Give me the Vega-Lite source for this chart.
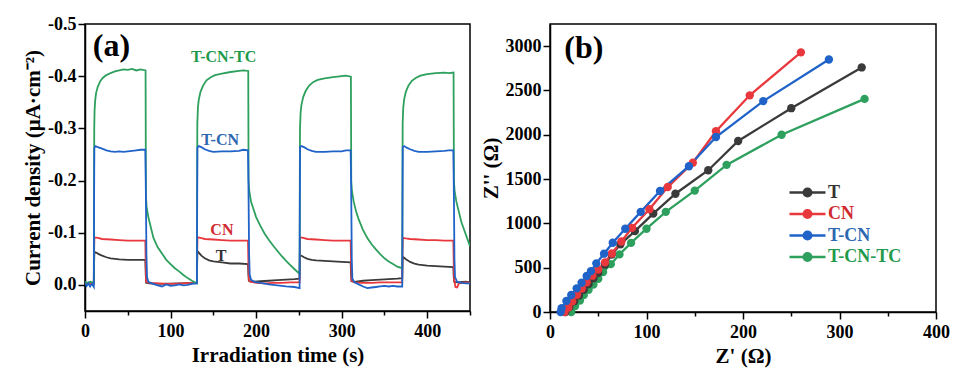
{
"$schema": "https://vega.github.io/schema/vega-lite/v6.json",
"background": "white",
"padding": {"left": 21, "top": 14, "right": 5, "bottom": 5},
"spacing": 7,
"resolve": {"scale": {"color": "independent"}, "legend": {"color": "independent"}},
"config": {
 "font": "Liberation Serif",
 "view": {"stroke": "#000", "strokeWidth": 1.5},
 "axis": {"labelFont": "Liberation Serif", "labelFontWeight": "bold", "labelFontSize": 18, "labelColor": "#000", "labelFlush": false, "labelOverlap": false,
  "titleFont": "Liberation Serif", "titleFontWeight": "bold", "titleFontSize": 21, "titleColor": "#000",
  "domainColor": "#000", "domainWidth": 1.5, "tickColor": "#000", "tickWidth": 1.5, "grid": false, "labelPadding": 2}
},
"datasets": {
 "pc": [
  {"s":"T","t":0,"v":-0.002},{"s":"T","t":5,"v":-0.003},{"s":"T","t":10.3,"v":-0.002},{"s":"T","t":10.6,"v":-0.04},{"s":"T","t":11,"v":-0.063},{"s":"T","t":13,"v":-0.062},{"s":"T","t":16,"v":-0.059},{"s":"T","t":20,"v":-0.056},{"s":"T","t":25,"v":-0.053},{"s":"T","t":30,"v":-0.051},{"s":"T","t":35,"v":-0.05},{"s":"T","t":40,"v":-0.049},{"s":"T","t":50,"v":-0.048},{"s":"T","t":60,"v":-0.048},{"s":"T","t":70.5,"v":-0.048},{"s":"T","t":71,"v":-0.02},{"s":"T","t":71.5,"v":-0.004},{"s":"T","t":75,"v":-0.003},{"s":"T","t":90,"v":-0.002},{"s":"T","t":110,"v":-0.003},{"s":"T","t":130.8,"v":-0.004},
  {"s":"T","t":131.1,"v":-0.04},{"s":"T","t":131.4,"v":-0.065},{"s":"T","t":133,"v":-0.062},{"s":"T","t":136,"v":-0.056},{"s":"T","t":140,"v":-0.051},{"s":"T","t":145,"v":-0.047},{"s":"T","t":150,"v":-0.045},{"s":"T","t":160,"v":-0.043},{"s":"T","t":170,"v":-0.041},{"s":"T","t":180,"v":-0.041},{"s":"T","t":190.5,"v":-0.04},{"s":"T","t":191,"v":-0.02},{"s":"T","t":191.5,"v":-0.008},{"s":"T","t":195,"v":-0.006},{"s":"T","t":205,"v":-0.007},{"s":"T","t":215,"v":-0.008},{"s":"T","t":225,"v":-0.009},{"s":"T","t":235,"v":-0.01},{"s":"T","t":245,"v":-0.011},{"s":"T","t":250.8,"v":-0.012},
  {"s":"T","t":251.1,"v":-0.04},{"s":"T","t":251.4,"v":-0.057},{"s":"T","t":253,"v":-0.056},{"s":"T","t":256,"v":-0.053},{"s":"T","t":260,"v":-0.05},{"s":"T","t":265,"v":-0.048},{"s":"T","t":270,"v":-0.047},{"s":"T","t":280,"v":-0.046},{"s":"T","t":290,"v":-0.045},{"s":"T","t":300,"v":-0.044},{"s":"T","t":310.5,"v":-0.043},{"s":"T","t":311,"v":-0.02},{"s":"T","t":311.5,"v":-0.007},{"s":"T","t":315,"v":-0.006},{"s":"T","t":325,"v":-0.008},{"s":"T","t":335,"v":-0.009},{"s":"T","t":345,"v":-0.01},{"s":"T","t":355,"v":-0.011},{"s":"T","t":365,"v":-0.012},{"s":"T","t":370.8,"v":-0.013},
  {"s":"T","t":371.1,"v":-0.04},{"s":"T","t":371.4,"v":-0.054},{"s":"T","t":373,"v":-0.052},{"s":"T","t":376,"v":-0.048},{"s":"T","t":380,"v":-0.044},{"s":"T","t":385,"v":-0.041},{"s":"T","t":390,"v":-0.039},{"s":"T","t":400,"v":-0.037},{"s":"T","t":410,"v":-0.036},{"s":"T","t":420,"v":-0.035},{"s":"T","t":430.5,"v":-0.034},{"s":"T","t":431,"v":-0.015},{"s":"T","t":431.5,"v":-0.006},{"s":"T","t":435,"v":-0.005},{"s":"T","t":445,"v":-0.006},{"s":"T","t":450,"v":-0.005},

  {"s":"CN","t":0,"v":-0.004},{"s":"CN","t":5,"v":-0.003},{"s":"CN","t":10.3,"v":-0.003},{"s":"CN","t":10.6,"v":-0.06},{"s":"CN","t":11,"v":-0.091},{"s":"CN","t":15,"v":-0.09},{"s":"CN","t":20,"v":-0.088},{"s":"CN","t":30,"v":-0.087},{"s":"CN","t":40,"v":-0.086},{"s":"CN","t":50,"v":-0.085},{"s":"CN","t":60,"v":-0.085},{"s":"CN","t":70.5,"v":-0.085},{"s":"CN","t":71,"v":-0.04},{"s":"CN","t":71.5,"v":-0.006},{"s":"CN","t":75,"v":-0.004},{"s":"CN","t":85,"v":-0.003},{"s":"CN","t":100,"v":-0.002},{"s":"CN","t":115,"v":-0.003},{"s":"CN","t":130.8,"v":-0.004},
  {"s":"CN","t":131.1,"v":-0.06},{"s":"CN","t":131.5,"v":-0.091},{"s":"CN","t":135,"v":-0.09},{"s":"CN","t":140,"v":-0.088},{"s":"CN","t":150,"v":-0.087},{"s":"CN","t":160,"v":-0.086},{"s":"CN","t":170,"v":-0.085},{"s":"CN","t":180,"v":-0.085},{"s":"CN","t":190.5,"v":-0.085},{"s":"CN","t":191,"v":-0.04},{"s":"CN","t":191.5,"v":-0.01},{"s":"CN","t":193,"v":-0.006},{"s":"CN","t":200,"v":-0.004},{"s":"CN","t":210,"v":-0.003},{"s":"CN","t":220,"v":-0.004},{"s":"CN","t":230,"v":-0.004},{"s":"CN","t":240,"v":-0.005},{"s":"CN","t":250.8,"v":-0.005},
  {"s":"CN","t":251.1,"v":-0.06},{"s":"CN","t":251.5,"v":-0.091},{"s":"CN","t":255,"v":-0.09},{"s":"CN","t":260,"v":-0.088},{"s":"CN","t":270,"v":-0.087},{"s":"CN","t":280,"v":-0.086},{"s":"CN","t":290,"v":-0.085},{"s":"CN","t":300,"v":-0.085},{"s":"CN","t":310.5,"v":-0.085},{"s":"CN","t":311,"v":-0.04},{"s":"CN","t":311.5,"v":-0.008},{"s":"CN","t":315,"v":-0.005},{"s":"CN","t":325,"v":-0.004},{"s":"CN","t":335,"v":-0.004},{"s":"CN","t":345,"v":-0.005},{"s":"CN","t":355,"v":-0.005},{"s":"CN","t":365,"v":-0.005},{"s":"CN","t":370.8,"v":-0.005},
  {"s":"CN","t":371.1,"v":-0.06},{"s":"CN","t":371.5,"v":-0.09},{"s":"CN","t":375,"v":-0.089},{"s":"CN","t":380,"v":-0.088},{"s":"CN","t":390,"v":-0.087},{"s":"CN","t":400,"v":-0.086},{"s":"CN","t":410,"v":-0.086},{"s":"CN","t":420,"v":-0.085},{"s":"CN","t":430.5,"v":-0.085},{"s":"CN","t":431,"v":-0.04},{"s":"CN","t":431.5,"v":-0.01},{"s":"CN","t":433,"v":0.004},{"s":"CN","t":435,"v":0.005},{"s":"CN","t":437,"v":-0.003},{"s":"CN","t":445,"v":-0.005},{"s":"CN","t":450,"v":-0.004},

  {"s":"T-CN-TC","t":0,"v":-0.006},{"s":"T-CN-TC","t":3,"v":-0.004},{"s":"T-CN-TC","t":6,"v":-0.006},{"s":"T-CN-TC","t":9,"v":-0.005},{"s":"T-CN-TC","t":10.3,"v":-0.004},
  {"s":"T-CN-TC","t":10.6,"v":-0.2},{"s":"T-CN-TC","t":10.8,"v":-0.3},{"s":"T-CN-TC","t":11.2,"v":-0.335},{"s":"T-CN-TC","t":12,"v":-0.355},{"s":"T-CN-TC","t":13,"v":-0.368},{"s":"T-CN-TC","t":15,"v":-0.38},{"s":"T-CN-TC","t":18,"v":-0.391},{"s":"T-CN-TC","t":21,"v":-0.397},{"s":"T-CN-TC","t":25,"v":-0.402},{"s":"T-CN-TC","t":30,"v":-0.406},{"s":"T-CN-TC","t":35,"v":-0.409},{"s":"T-CN-TC","t":40,"v":-0.411},{"s":"T-CN-TC","t":45,"v":-0.413},{"s":"T-CN-TC","t":50,"v":-0.412},{"s":"T-CN-TC","t":55,"v":-0.414},{"s":"T-CN-TC","t":60,"v":-0.411},{"s":"T-CN-TC","t":65,"v":-0.413},{"s":"T-CN-TC","t":70.8,"v":-0.411},
  {"s":"T-CN-TC","t":71.2,"v":-0.17},{"s":"T-CN-TC","t":72,"v":-0.15},{"s":"T-CN-TC","t":74,"v":-0.13},{"s":"T-CN-TC","t":77,"v":-0.11},{"s":"T-CN-TC","t":80,"v":-0.09},{"s":"T-CN-TC","t":85,"v":-0.072},{"s":"T-CN-TC","t":90,"v":-0.06},{"s":"T-CN-TC","t":95,"v":-0.048},{"s":"T-CN-TC","t":100,"v":-0.04},{"s":"T-CN-TC","t":105,"v":-0.032},{"s":"T-CN-TC","t":110,"v":-0.026},{"s":"T-CN-TC","t":115,"v":-0.019},{"s":"T-CN-TC","t":120,"v":-0.013},{"s":"T-CN-TC","t":125,"v":-0.008},{"s":"T-CN-TC","t":130.8,"v":-0.003},
  {"s":"T-CN-TC","t":131.1,"v":-0.22},{"s":"T-CN-TC","t":131.3,"v":-0.31},{"s":"T-CN-TC","t":132,"v":-0.34},{"s":"T-CN-TC","t":133,"v":-0.355},{"s":"T-CN-TC","t":135,"v":-0.37},{"s":"T-CN-TC","t":138,"v":-0.382},{"s":"T-CN-TC","t":142,"v":-0.392},{"s":"T-CN-TC","t":147,"v":-0.398},{"s":"T-CN-TC","t":152,"v":-0.402},{"s":"T-CN-TC","t":160,"v":-0.405},{"s":"T-CN-TC","t":170,"v":-0.408},{"s":"T-CN-TC","t":180,"v":-0.41},{"s":"T-CN-TC","t":185,"v":-0.411},{"s":"T-CN-TC","t":190.8,"v":-0.41},
  {"s":"T-CN-TC","t":191.2,"v":-0.2},{"s":"T-CN-TC","t":192,"v":-0.18},{"s":"T-CN-TC","t":194,"v":-0.16},{"s":"T-CN-TC","t":197,"v":-0.145},{"s":"T-CN-TC","t":200,"v":-0.13},{"s":"T-CN-TC","t":205,"v":-0.113},{"s":"T-CN-TC","t":210,"v":-0.098},{"s":"T-CN-TC","t":215,"v":-0.086},{"s":"T-CN-TC","t":220,"v":-0.075},{"s":"T-CN-TC","t":225,"v":-0.065},{"s":"T-CN-TC","t":230,"v":-0.055},{"s":"T-CN-TC","t":235,"v":-0.046},{"s":"T-CN-TC","t":240,"v":-0.038},{"s":"T-CN-TC","t":245,"v":-0.03},{"s":"T-CN-TC","t":250.8,"v":-0.021},
  {"s":"T-CN-TC","t":251.1,"v":-0.22},{"s":"T-CN-TC","t":251.3,"v":-0.3},{"s":"T-CN-TC","t":252,"v":-0.33},{"s":"T-CN-TC","t":253,"v":-0.345},{"s":"T-CN-TC","t":255,"v":-0.36},{"s":"T-CN-TC","t":258,"v":-0.372},{"s":"T-CN-TC","t":262,"v":-0.382},{"s":"T-CN-TC","t":267,"v":-0.389},{"s":"T-CN-TC","t":272,"v":-0.393},{"s":"T-CN-TC","t":280,"v":-0.396},{"s":"T-CN-TC","t":290,"v":-0.398},{"s":"T-CN-TC","t":300,"v":-0.4},{"s":"T-CN-TC","t":305,"v":-0.401},{"s":"T-CN-TC","t":310.8,"v":-0.399},
  {"s":"T-CN-TC","t":311.2,"v":-0.2},{"s":"T-CN-TC","t":312,"v":-0.18},{"s":"T-CN-TC","t":314,"v":-0.16},{"s":"T-CN-TC","t":317,"v":-0.14},{"s":"T-CN-TC","t":320,"v":-0.125},{"s":"T-CN-TC","t":325,"v":-0.105},{"s":"T-CN-TC","t":330,"v":-0.09},{"s":"T-CN-TC","t":335,"v":-0.078},{"s":"T-CN-TC","t":340,"v":-0.068},{"s":"T-CN-TC","t":345,"v":-0.059},{"s":"T-CN-TC","t":350,"v":-0.051},{"s":"T-CN-TC","t":355,"v":-0.045},{"s":"T-CN-TC","t":360,"v":-0.04},{"s":"T-CN-TC","t":365,"v":-0.035},{"s":"T-CN-TC","t":370.8,"v":-0.032},
  {"s":"T-CN-TC","t":371.1,"v":-0.22},{"s":"T-CN-TC","t":371.3,"v":-0.31},{"s":"T-CN-TC","t":372,"v":-0.34},{"s":"T-CN-TC","t":373,"v":-0.355},{"s":"T-CN-TC","t":375,"v":-0.37},{"s":"T-CN-TC","t":378,"v":-0.382},{"s":"T-CN-TC","t":382,"v":-0.391},{"s":"T-CN-TC","t":387,"v":-0.397},{"s":"T-CN-TC","t":392,"v":-0.401},{"s":"T-CN-TC","t":400,"v":-0.404},{"s":"T-CN-TC","t":410,"v":-0.406},{"s":"T-CN-TC","t":420,"v":-0.407},{"s":"T-CN-TC","t":425,"v":-0.406},{"s":"T-CN-TC","t":430.8,"v":-0.407},
  {"s":"T-CN-TC","t":431.2,"v":-0.2},{"s":"T-CN-TC","t":432,"v":-0.18},{"s":"T-CN-TC","t":434,"v":-0.16},{"s":"T-CN-TC","t":437,"v":-0.14},{"s":"T-CN-TC","t":440,"v":-0.12},{"s":"T-CN-TC","t":445,"v":-0.097},{"s":"T-CN-TC","t":450,"v":-0.074},

  {"s":"T-CN","t":0,"v":-0.004},{"s":"T-CN","t":2,"v":0.002},{"s":"T-CN","t":4,"v":-0.003},{"s":"T-CN","t":6,"v":0.003},{"s":"T-CN","t":8,"v":-0.002},{"s":"T-CN","t":10.3,"v":0.004},
  {"s":"T-CN","t":10.6,"v":-0.15},{"s":"T-CN","t":10.9,"v":-0.262},{"s":"T-CN","t":12,"v":-0.266},{"s":"T-CN","t":15,"v":-0.264},{"s":"T-CN","t":20,"v":-0.261},{"s":"T-CN","t":25,"v":-0.258},{"s":"T-CN","t":30,"v":-0.256},{"s":"T-CN","t":35,"v":-0.255},{"s":"T-CN","t":40,"v":-0.256},{"s":"T-CN","t":45,"v":-0.255},{"s":"T-CN","t":50,"v":-0.256},{"s":"T-CN","t":55,"v":-0.257},{"s":"T-CN","t":60,"v":-0.258},{"s":"T-CN","t":65,"v":-0.259},{"s":"T-CN","t":70.5,"v":-0.259},
  {"s":"T-CN","t":71,"v":-0.2},{"s":"T-CN","t":71.3,"v":-0.15},{"s":"T-CN","t":71.8,"v":-0.06},{"s":"T-CN","t":72.5,"v":-0.015},{"s":"T-CN","t":74,"v":-0.006},{"s":"T-CN","t":78,"v":-0.003},{"s":"T-CN","t":85,"v":0.001},{"s":"T-CN","t":90,"v":0.003},{"s":"T-CN","t":95,"v":-0.001},{"s":"T-CN","t":100,"v":0.002},{"s":"T-CN","t":105,"v":0.001},{"s":"T-CN","t":110,"v":-0.001},{"s":"T-CN","t":115,"v":0.001},{"s":"T-CN","t":120,"v":0},{"s":"T-CN","t":125,"v":-0.002},{"s":"T-CN","t":130.8,"v":-0.003},
  {"s":"T-CN","t":131.1,"v":-0.15},{"s":"T-CN","t":131.4,"v":-0.263},{"s":"T-CN","t":133,"v":-0.266},{"s":"T-CN","t":136,"v":-0.264},{"s":"T-CN","t":140,"v":-0.26},{"s":"T-CN","t":145,"v":-0.257},{"s":"T-CN","t":150,"v":-0.255},{"s":"T-CN","t":160,"v":-0.256},{"s":"T-CN","t":170,"v":-0.256},{"s":"T-CN","t":180,"v":-0.257},{"s":"T-CN","t":185,"v":-0.259},{"s":"T-CN","t":190.5,"v":-0.258},
  {"s":"T-CN","t":191,"v":-0.2},{"s":"T-CN","t":191.3,"v":-0.15},{"s":"T-CN","t":191.8,"v":-0.06},{"s":"T-CN","t":192.5,"v":-0.02},{"s":"T-CN","t":194,"v":-0.01},{"s":"T-CN","t":198,"v":-0.006},{"s":"T-CN","t":205,"v":-0.004},{"s":"T-CN","t":215,"v":-0.001},{"s":"T-CN","t":225,"v":0.001},{"s":"T-CN","t":235,"v":0.003},{"s":"T-CN","t":245,"v":0.004},{"s":"T-CN","t":250.8,"v":0.006},
  {"s":"T-CN","t":251.1,"v":-0.15},{"s":"T-CN","t":251.4,"v":-0.264},{"s":"T-CN","t":253,"v":-0.266},{"s":"T-CN","t":256,"v":-0.264},{"s":"T-CN","t":260,"v":-0.26},{"s":"T-CN","t":265,"v":-0.257},{"s":"T-CN","t":270,"v":-0.255},{"s":"T-CN","t":280,"v":-0.255},{"s":"T-CN","t":290,"v":-0.256},{"s":"T-CN","t":300,"v":-0.256},{"s":"T-CN","t":305,"v":-0.258},{"s":"T-CN","t":310.5,"v":-0.258},
  {"s":"T-CN","t":311,"v":-0.2},{"s":"T-CN","t":311.3,"v":-0.15},{"s":"T-CN","t":311.8,"v":-0.05},{"s":"T-CN","t":312.5,"v":-0.012},{"s":"T-CN","t":315,"v":-0.005},{"s":"T-CN","t":320,"v":-0.001},{"s":"T-CN","t":325,"v":0.003},{"s":"T-CN","t":330,"v":0.006},{"s":"T-CN","t":335,"v":0.005},{"s":"T-CN","t":340,"v":0.004},{"s":"T-CN","t":345,"v":0.003},{"s":"T-CN","t":350,"v":0.002},{"s":"T-CN","t":355,"v":0.003},{"s":"T-CN","t":360,"v":0.002},{"s":"T-CN","t":365,"v":0.003},{"s":"T-CN","t":370.8,"v":0.003},
  {"s":"T-CN","t":371.1,"v":-0.15},{"s":"T-CN","t":371.4,"v":-0.264},{"s":"T-CN","t":373,"v":-0.266},{"s":"T-CN","t":376,"v":-0.263},{"s":"T-CN","t":380,"v":-0.26},{"s":"T-CN","t":385,"v":-0.257},{"s":"T-CN","t":390,"v":-0.255},{"s":"T-CN","t":400,"v":-0.255},{"s":"T-CN","t":410,"v":-0.256},{"s":"T-CN","t":420,"v":-0.257},{"s":"T-CN","t":425,"v":-0.258},{"s":"T-CN","t":430.5,"v":-0.258},
  {"s":"T-CN","t":431,"v":-0.2},{"s":"T-CN","t":431.3,"v":-0.15},{"s":"T-CN","t":431.8,"v":-0.05},{"s":"T-CN","t":432.5,"v":-0.015},{"s":"T-CN","t":435,"v":-0.006},{"s":"T-CN","t":440,"v":-0.004},{"s":"T-CN","t":445,"v":-0.003},{"s":"T-CN","t":450,"v":-0.003}
 ],
 "eis": [
  {"s":"T-CN-TC","zr":22,"zi":0},{"s":"T-CN-TC","zr":26,"zi":68},{"s":"T-CN-TC","zr":31,"zi":130},{"s":"T-CN-TC","zr":35,"zi":190},{"s":"T-CN-TC","zr":40,"zi":250},{"s":"T-CN-TC","zr":45,"zi":310},{"s":"T-CN-TC","zr":50,"zi":375},{"s":"T-CN-TC","zr":55,"zi":450},{"s":"T-CN-TC","zr":63,"zi":540},{"s":"T-CN-TC","zr":72,"zi":650},{"s":"T-CN-TC","zr":84,"zi":780},{"s":"T-CN-TC","zr":100,"zi":940},{"s":"T-CN-TC","zr":120,"zi":1130},{"s":"T-CN-TC","zr":150,"zi":1370},{"s":"T-CN-TC","zr":183,"zi":1660},{"s":"T-CN-TC","zr":240,"zi":2000},{"s":"T-CN-TC","zr":326,"zi":2405},
  {"s":"T","zr":16,"zi":0},{"s":"T","zr":20,"zi":55},{"s":"T","zr":25,"zi":120},{"s":"T","zr":30,"zi":185},{"s":"T","zr":35,"zi":250},{"s":"T","zr":40,"zi":315},{"s":"T","zr":45,"zi":380},{"s":"T","zr":50,"zi":442},{"s":"T","zr":57,"zi":536},{"s":"T","zr":64,"zi":649},{"s":"T","zr":73,"zi":765},{"s":"T","zr":88,"zi":913},{"s":"T","zr":107,"zi":1110},{"s":"T","zr":130,"zi":1335},{"s":"T","zr":164,"zi":1600},{"s":"T","zr":195,"zi":1930},{"s":"T","zr":250,"zi":2300},{"s":"T","zr":323,"zi":2760},
  {"s":"CN","zr":15,"zi":0},{"s":"CN","zr":19,"zi":50},{"s":"CN","zr":23,"zi":120},{"s":"CN","zr":28,"zi":195},{"s":"CN","zr":33,"zi":265},{"s":"CN","zr":38,"zi":335},{"s":"CN","zr":44,"zi":410},{"s":"CN","zr":50,"zi":480},{"s":"CN","zr":57,"zi":560},{"s":"CN","zr":64,"zi":660},{"s":"CN","zr":74,"zi":795},{"s":"CN","zr":85,"zi":950},{"s":"CN","zr":103,"zi":1160},{"s":"CN","zr":122,"zi":1410},{"s":"CN","zr":148,"zi":1685},{"s":"CN","zr":172,"zi":2040},{"s":"CN","zr":207,"zi":2445},{"s":"CN","zr":260,"zi":2930},
  {"s":"T-CN","zr":11,"zi":0},{"s":"T-CN","zr":12,"zi":42},{"s":"T-CN","zr":17,"zi":124},{"s":"T-CN","zr":22,"zi":192},{"s":"T-CN","zr":27.6,"zi":267},{"s":"T-CN","zr":32.7,"zi":330},{"s":"T-CN","zr":38,"zi":406},{"s":"T-CN","zr":42.5,"zi":462},{"s":"T-CN","zr":48,"zi":549},{"s":"T-CN","zr":56,"zi":658},{"s":"T-CN","zr":65,"zi":782},{"s":"T-CN","zr":78,"zi":940},{"s":"T-CN","zr":94,"zi":1130},{"s":"T-CN","zr":114,"zi":1365},{"s":"T-CN","zr":144,"zi":1645},{"s":"T-CN","zr":172,"zi":1975},{"s":"T-CN","zr":221,"zi":2380},{"s":"T-CN","zr":289,"zi":2850}
 ]
},
"hconcat": [
 {
  "width": 385, "height": 287,
  "layer": [
   {"data": {"name": "pc"},
    "mark": {"type": "line", "strokeWidth": 1.8, "clip": true},
    "encoding": {
     "x": {"field": "t", "type": "quantitative", "scale": {"domain": [0, 450], "nice": false, "zero": false},
      "axis": {"title": "Irradiation time (s)", "values": [0,50,100,150,200,250,300,350,400,450], "format": "d",
       "labelExpr": "datum.value % 100 === 0 ? datum.label : ''",
       "tickSize": {"condition": {"test": "datum.value % 100 === 0", "value": 7}, "value": 4},
       "labelPadding": 4, "titlePadding": 4}},
     "y": {"field": "v", "type": "quantitative", "scale": {"domain": [-0.5, 0.05], "reverse": true, "nice": false, "zero": false},
      "axis": {"title": "Current density (μA·cm⁻²)", "values": [-0.5,-0.45,-0.4,-0.35,-0.3,-0.25,-0.2,-0.15,-0.1,-0.05,0,0.05],
       "labelExpr": "round(datum.value*100) % 10 === 0 ? replace(format(datum.value, '.1f'), '\u2212', '-') : ''",
       "tickSize": {"condition": {"test": "round(datum.value*100) % 10 === 0", "value": 7}, "value": 4},
       "labelPadding": 2, "titlePadding": 4}},
     "color": {"field": "s", "type": "nominal", "scale": {"domain": ["T", "CN", "T-CN", "T-CN-TC"], "range": ["#3a3a3a", "#e8383d", "#2063c8", "#2ea05e"]}, "legend": null}
    }},
   {"data": {"values": [{}]}, "mark": {"type": "text", "font": "Liberation Serif", "fontWeight": "bold", "fontSize": 32, "color": "#000"},
    "encoding": {"x": {"datum": 31}, "y": {"datum": -0.458}, "text": {"value": "(a)"}}},
   {"data": {"values": [{}]}, "mark": {"type": "text", "font": "Liberation Serif", "fontWeight": "bold", "fontSize": 16, "color": "#1f9a4c"},
    "encoding": {"x": {"datum": 162}, "y": {"datum": -0.436}, "text": {"value": "T-CN-TC"}}},
   {"data": {"values": [{}]}, "mark": {"type": "text", "font": "Liberation Serif", "fontWeight": "bold", "fontSize": 16, "color": "#2c68b0"},
    "encoding": {"x": {"datum": 158}, "y": {"datum": -0.2775}, "text": {"value": "T-CN"}}},
   {"data": {"values": [{}]}, "mark": {"type": "text", "font": "Liberation Serif", "fontWeight": "bold", "fontSize": 16, "color": "#d02a2e"},
    "encoding": {"x": {"datum": 160}, "y": {"datum": -0.106}, "text": {"value": "CN"}}},
   {"data": {"values": [{}]}, "mark": {"type": "text", "font": "Liberation Serif", "fontWeight": "bold", "fontSize": 16, "color": "#333333"},
    "encoding": {"x": {"datum": 159}, "y": {"datum": -0.056}, "text": {"value": "T"}}}
  ]
 },
 {
  "width": 386, "height": 288,
  "layer": [
   {"data": {"name": "eis"},
    "mark": {"type": "line", "strokeWidth": 2.3},
    "encoding": {
     "x": {"field": "zr", "type": "quantitative", "scale": {"domain": [0, 400], "nice": false, "zero": false},
      "axis": {"title": "Z' (Ω)", "values": [0,50,100,150,200,250,300,350,400], "format": "d",
       "labelExpr": "datum.value % 100 === 0 ? datum.label : ''",
       "tickSize": {"condition": {"test": "datum.value % 100 === 0", "value": 7}, "value": 4},
       "labelPadding": 4, "titlePadding": 4}},
     "y": {"field": "zi", "type": "quantitative", "scale": {"domain": [0, 3250], "nice": false, "zero": false},
      "axis": {"title": "Z'' (Ω)", "values": [0,250,500,750,1000,1250,1500,1750,2000,2250,2500,2750,3000,3250], "format": "d",
       "labelExpr": "datum.value % 500 === 0 ? datum.label : ''",
       "tickSize": {"condition": {"test": "datum.value % 500 === 0", "value": 7}, "value": 4},
       "labelPadding": 2, "titlePadding": 4}},
     "color": {"field": "s", "type": "nominal", "scale": {"domain": ["T", "CN", "T-CN", "T-CN-TC"], "range": ["#3a3a3a", "#e8383d", "#2063c8", "#2ea05e"]},
      "legend": {"orient": "none", "legendX": 247, "legendY": 158, "title": null,
       "symbolType": "M-2,0H2M0.42,0A0.42,0.42,0,1,1,-0.42,0A0.42,0.42,0,1,1,0.42,0Z",
       "symbolSize": 324, "symbolStrokeWidth": 2.5, "labelOffset": 10, "rowPadding": 1.5,
       "labelFont": "Liberation Serif", "labelFontWeight": "bold", "labelFontSize": 18,
       "encode": {
        "symbols": {"update": {
         "fill": [{"test": "datum.value === 'T'", "value": "#3a3a3a"}, {"test": "datum.value === 'CN'", "value": "#e8383d"}, {"test": "datum.value === 'T-CN'", "value": "#2063c8"}, {"value": "#2ea05e"}],
         "stroke": [{"test": "datum.value === 'T'", "value": "#3a3a3a"}, {"test": "datum.value === 'CN'", "value": "#e8383d"}, {"test": "datum.value === 'T-CN'", "value": "#2063c8"}, {"value": "#2ea05e"}],
         "opacity": {"value": 1}}},
        "labels": {"update": {
         "fill": [{"test": "datum.value === 'T'", "value": "#333333"}, {"test": "datum.value === 'CN'", "value": "#d02a2e"}, {"test": "datum.value === 'T-CN'", "value": "#2c68b0"}, {"value": "#1f9a4c"}]}}}}}
    }},
   {"data": {"name": "eis"},
    "mark": {"type": "point", "filled": true, "size": 70, "opacity": 1},
    "encoding": {
     "x": {"field": "zr", "type": "quantitative"},
     "y": {"field": "zi", "type": "quantitative"},
     "color": {"field": "s", "type": "nominal"}
    }},
   {"data": {"values": [{}]}, "mark": {"type": "text", "font": "Liberation Serif", "fontWeight": "bold", "fontSize": 32, "color": "#000"},
    "encoding": {"x": {"datum": 35}, "y": {"datum": 2980}, "text": {"value": "(b)"}}}
  ]
 }
]
}
